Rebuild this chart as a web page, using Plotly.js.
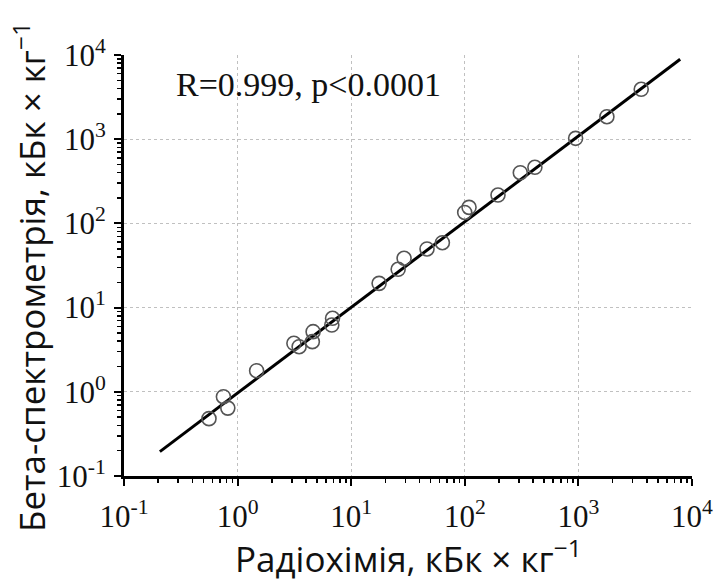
<!DOCTYPE html>
<html>
<head>
<meta charset="utf-8">
<script src="https://cdn.plot.ly/plotly-3.0.1.min.js"></script>
<style>html,body{margin:0;padding:0;background:#fff;}#chart{width:717px;height:583px;}</style>
</head>
<body>
<div id="chart"></div>
<script>
// Measured points: radiochemistry (x) vs beta-spectrometry (y), kBq/kg
const radiochem = [0.56, 0.75, 0.82, 1.47, 3.13, 3.48, 4.62, 4.55, 6.85, 6.75,
                   17.6, 25.9, 29.2, 46.5, 63.5, 99.8, 109, 196, 308, 414, 945, 1782, 3573];
const betaSpec  = [0.48, 0.875, 0.64, 1.78, 3.77, 3.43, 5.18, 3.94, 7.46, 6.21,
                   19.4, 28.5, 38.5, 49.7, 59.0, 135, 155, 217, 400, 464, 1024, 1849, 3916];
// Regression line endpoints
const fitX = [0.207, 7870];
const fitY = [0.195, 8890];
// Tick labels
const tickVals = [0.1, 1, 10, 100, 1000, 10000];
const tickText = ['10<sup>-1</sup>', '10<sup>0</sup>', '10<sup>1</sup>', '10<sup>2</sup>', '10<sup>3</sup>', '10<sup>4</sup>'];
const xTitle = 'Радіохімія, кБк × кг<sup>−1</sup>';
const yTitle = 'Бета-спектрометрія, кБк × кг<sup>−1</sup>';
const statText = 'R=0.999, p<0.0001';

const axisCommon = {
  type: 'log',
  range: [-1, 4],
  tickvals: tickVals,
  ticktext: tickText,
  tickfont: {family: 'Liberation Serif', size: 31, color: '#111'},
  showline: true, linecolor: '#000', linewidth: 3,
  ticks: 'outside', ticklen: 7, tickwidth: 2, tickcolor: '#000',
  minor: {ticks: 'outside', ticklen: 4, tickwidth: 1.5, tickcolor: '#000', dtick: 'D1', showgrid: false},
  showgrid: true, gridcolor: '#c0c0c0', gridwidth: 1, griddash: 'dot',
  zeroline: false, mirror: false, automargin: false
};

const data = [
  {x: fitX, y: fitY, mode: 'lines', type: 'scatter', line: {color: '#000', width: 3}, hoverinfo: 'skip'},
  {x: radiochem, y: betaSpec, mode: 'markers', type: 'scatter',
   marker: {symbol: 'circle-open', size: 14, color: '#555', line: {width: 1.6, color: '#555'}}}
];

const layout = {
  width: 717, height: 583,
  margin: {l: 124, r: 25, t: 55, b: 107},
  paper_bgcolor: '#fff', plot_bgcolor: '#fff',
  showlegend: false,
  xaxis: Object.assign({}, axisCommon, {ticklabelstandoff: 4}),
  yaxis: Object.assign({}, axisCommon, {ticklabelstandoff: 2}),
  annotations: [{
    text: statText, xref: 'paper', yref: 'paper', x: 0.088, y: 0.93,
    xanchor: 'left', yanchor: 'middle', showarrow: false,
    font: {family: 'Liberation Serif', size: 34, color: '#111'}
  }, {
    text: xTitle, xref: 'paper', yref: 'paper', x: 0.5, y: -0.192,
    xanchor: 'center', yanchor: 'middle', showarrow: false,
    font: {family: 'Open Sans', size: 35, color: '#111'}
  }, {
    text: yTitle, xref: 'paper', yref: 'paper', x: -0.166, y: 0.472,
    xanchor: 'center', yanchor: 'middle', textangle: -90, showarrow: false,
    font: {family: 'Open Sans', size: 35, color: '#111'}
  }]
};

Plotly.newPlot('chart', data, layout, {staticPlot: true, displayModeBar: false});
</script>
</body>
</html>
